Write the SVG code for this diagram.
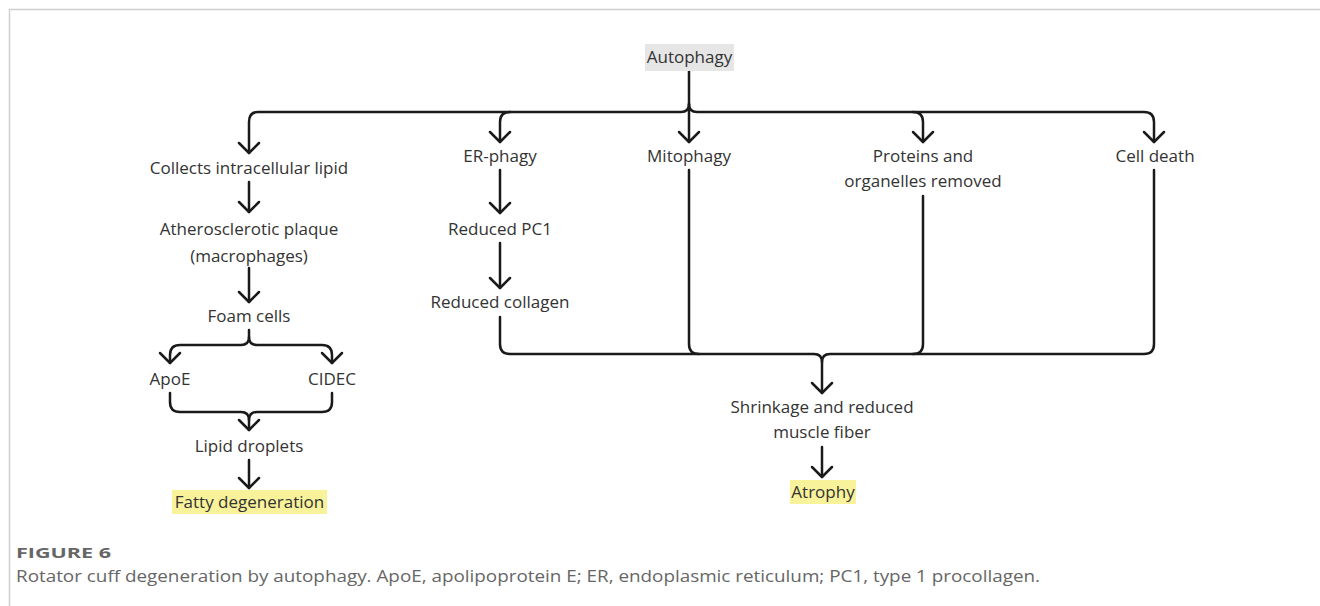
<svg xmlns="http://www.w3.org/2000/svg" width="1320" height="606" viewBox="0 0 1320 606">
<style>
.t{font-family:"Open Sans","Liberation Sans",sans-serif;font-size:17px;fill:#333;text-anchor:middle}
.c{fill:none;stroke:#1a1a1a;stroke-width:2.5;stroke-linecap:round;stroke-linejoin:round}
.cap{font-family:"Open Sans","Liberation Sans",sans-serif;fill:#666}
</style>
<defs>
<marker id="ah" markerUnits="userSpaceOnUse" viewBox="-12 -12 24 24" markerWidth="24" markerHeight="24" refX="0" refY="0" orient="auto">
<path d="M-10,-10 L0,0 L-10,10" fill="none" stroke="#1a1a1a" stroke-width="2.5" stroke-linecap="round" stroke-linejoin="round"/>
</marker>
</defs>
<rect width="1320" height="606" fill="#fff"/>
<path d="M9.5,606 V9.5 H1320" fill="none" stroke="#cfcfcf" stroke-width="1.5"/>

<g id="connectors">
<path class="c" d="M689,71 V104 Q689,112 681,112 H258 Q249,112 249,122 V153" marker-end="url(#ah)"/>
<path class="c" d="M689,104 Q689,112 697,112 H1144 Q1154,112 1154,122 V142" marker-end="url(#ah)"/>
<path class="c" d="M689,104 V142" marker-end="url(#ah)"/>
<path class="c" d="M510,112 Q500,112 500,122 V142" marker-end="url(#ah)"/>
<path class="c" d="M913,112 Q923,112 923,122 V142" marker-end="url(#ah)"/>
<path class="c" d="M249,182 V212" marker-end="url(#ah)"/>
<path class="c" d="M249,268 V302" marker-end="url(#ah)"/>
<path class="c" d="M249,330 V337 Q249,345 241,345 H180 Q170,345 170,355 V363" marker-end="url(#ah)"/>
<path class="c" d="M249,337 Q249,345 257,345 H322 Q332,345 332,355 V363" marker-end="url(#ah)"/>
<path class="c" d="M170,393 V402 Q170,412 180,412 H241 Q249,412 249,420 V430" marker-end="url(#ah)"/>
<path class="c" d="M332,393 V402 Q332,412 322,412 H257 Q249,412 249,420"/>
<path class="c" d="M249,460 V488" marker-end="url(#ah)"/>
<path class="c" d="M500,170 V213" marker-end="url(#ah)"/>
<path class="c" d="M500,243 V288" marker-end="url(#ah)"/>
<path class="c" d="M500,317 V344 Q500,354 510,354 H814 Q822,354 822,362 V393" marker-end="url(#ah)"/>
<path class="c" d="M689,170 V344 Q689,354 699,354"/>
<path class="c" d="M923,196 V344 Q923,354 913,354"/>
<path class="c" d="M1154,170 V344 Q1154,354 1144,354 H830 Q822,354 822,362"/>
<path class="c" d="M822,447 V477" marker-end="url(#ah)"/>
</g>

<g id="autophagy"><rect x="645" y="44" width="89" height="27" fill="#e6e6e6"/><text class="t" x="689.5" y="63">Autophagy</text></g>
<g id="collects"><text class="t" x="249" y="174">Collects intracellular lipid</text></g>
<g id="plaque"><text class="t" x="249" y="235">Atherosclerotic plaque</text><text class="t" x="249" y="262">(macrophages)</text></g>
<g id="foam"><text class="t" x="249" y="322">Foam cells</text></g>
<g id="apoe"><text class="t" x="170" y="385">ApoE</text></g>
<g id="cidec"><text class="t" x="332" y="385">CIDEC</text></g>
<g id="lipid"><text class="t" x="249" y="452">Lipid droplets</text></g>
<g id="fatty"><rect x="172" y="490" width="155" height="24" fill="#f8f29a"/><text class="t" x="249.5" y="508">Fatty degeneration</text></g>
<g id="erphagy"><text class="t" x="500" y="162">ER-phagy</text></g>
<g id="pc1"><text class="t" x="500" y="235">Reduced PC1</text></g>
<g id="collagen"><text class="t" x="500" y="308">Reduced collagen</text></g>
<g id="mitophagy"><text class="t" x="689" y="162">Mitophagy</text></g>
<g id="proteins"><text class="t" x="923" y="162">Proteins and</text><text class="t" x="923" y="187">organelles removed</text></g>
<g id="celldeath"><text class="t" x="1155" y="162">Cell death</text></g>
<g id="shrinkage"><text class="t" x="822" y="413">Shrinkage and reduced</text><text class="t" x="822" y="438">muscle fiber</text></g>
<g id="atrophy"><rect x="790" y="480" width="66" height="24" fill="#f8f29a"/><text class="t" x="823" y="498">Atrophy</text></g>

<text class="cap" x="16" y="558" font-size="15" font-weight="bold" fill="#555" textLength="95" lengthAdjust="spacingAndGlyphs">FIGURE 6</text>
<text class="cap" x="16" y="582" font-size="16" textLength="1024" lengthAdjust="spacingAndGlyphs">Rotator cuff degeneration by autophagy. ApoE, apolipoprotein E; ER, endoplasmic reticulum; PC1, type 1 procollagen.</text>
</svg>
